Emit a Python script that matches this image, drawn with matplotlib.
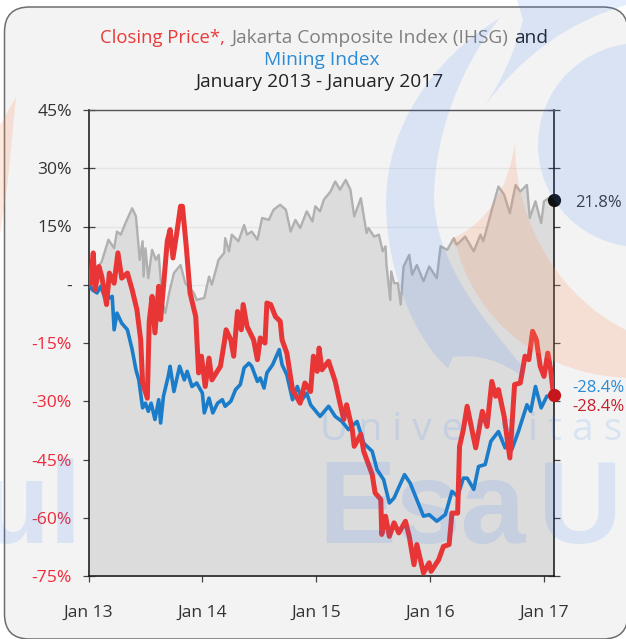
import matplotlib
matplotlib.use("Agg")
import matplotlib.pyplot as plt
from matplotlib.patches import FancyBboxPatch, Circle, PathPatch
from matplotlib.path import Path

plt.rcParams['font.family'] = ['Open Sans', 'DejaVu Sans']

# months since Jan 13 / percent change
ihsg_t = [0, 0.6, 1.4, 2.1, 2.7, 3.0, 3.4, 3.9, 4.6, 5.0, 5.4, 5.7, 5.8, 6.0, 6.3, 6.7, 7.1, 7.4, 7.8, 8.1,
          8.5, 9.0, 9.7, 10.2, 11.1, 11.4, 12.2, 12.7, 13.0, 13.7, 14.3, 14.4, 14.8, 15.1, 15.8, 16.4, 16.7, 17.2, 17.8, 18.3,
          19.0, 19.5, 20.2, 20.8, 21.3, 21.8, 22.3, 23.0, 23.6, 23.9, 24.4, 24.8, 25.5, 26.0, 26.5, 27.1, 27.6, 28.0, 28.7, 29.3,
          29.5, 30.1, 30.6, 31.0, 31.3, 31.4, 31.8, 31.9, 32.2, 32.6, 32.9, 33.2, 33.8, 34.1, 34.6, 35.3, 35.9, 36.7, 37.1, 37.8,
          38.5, 38.8, 39.7, 40.6, 41.3, 41.6, 42.5, 43.2, 43.8, 44.4, 45.0, 45.5, 46.2, 46.5, 47.1, 47.7, 48.0, 48.5, 49.0]
ihsg_v = [1.3, 3.0, 6.0, 11.6, 9.4, 13.7, 12.9, 15.9, 19.7, 17.6, 6.4, 11.2, 2.1, 9.4, 1.7, 9.0, 6.4, 7.7, -4.7, -7.3,
          -2.1, 3.0, 5.1, 0.4, -2.1, -3.9, -3.4, 2.1, 0, 6.4, 8.2, 12.0, 8.6, 12.9, 11.2, 15.4, 12.9, 13.7, 11.6, 17.2,
          16.7, 19.3, 20.6, 19.3, 13.7, 16.7, 14.6, 18.9, 16.3, 20.2, 18.9, 21.9, 24.0, 26.6, 24.5, 27.0, 24.5, 17.6, 22.3, 13.3,
          14.6, 12.4, 12.9, 8.6, 9.9, 5.1, -3.9, 3.4, 0.4, 0.4, -5.1, 4.7, 7.7, 2.6, 5.1, 0.9, 4.7, 1.7, 9.9, 9.0,
          12.0, 10.3, 12.4, 8.6, 12.9, 11.2, 19.3, 25.3, 23.2, 18.4, 25.7, 24.0, 25.7, 17.2, 21.5, 15.9, 21.5, 22.3, 21.8]

mining_t = [0, 0.4, 0.9, 1.3, 1.8, 2.5, 2.7, 3.0, 3.5, 4.1, 4.6, 5.0, 5.3, 5.7, 6.0, 6.3, 6.6, 7.0, 7.4, 7.6,
            7.9, 8.4, 8.6, 9.0, 9.6, 10.1, 10.4, 10.9, 11.4, 12.0, 12.2, 12.7, 13.1, 13.6, 14.1, 14.4, 15.0, 15.5, 16.0, 16.4,
            16.9, 17.2, 17.8, 18.1, 18.5, 18.8, 19.4, 20.1, 20.4, 20.9, 21.5, 22.0, 22.5, 23.0, 23.4, 24.4, 25.3, 26.0, 26.7, 27.4,
            28.3, 29.0, 29.9, 30.4, 31.1, 31.7, 32.2, 33.3, 33.9, 35.3, 35.9, 36.7, 37.6, 38.3, 38.9, 39.5, 39.9, 40.6, 41.1, 41.8,
            42.4, 43.2, 43.9, 44.1, 44.6, 45.3, 46.2, 46.6, 47.1, 47.7, 48.3, 49.0]
mining_v = [0.4, -1.3, -2.1, -0.4, -3.9, -3.0, -11.6, -7.3, -9.9, -11.6, -16.7, -21.9, -24.5, -31.7, -30.5, -32.6, -30.5, -34.7, -29.6, -35.6,
            -28.7, -23.6, -21.0, -27.5, -21.0, -24.5, -22.3, -26.2, -25.3, -27.9, -33.0, -29.2, -33.0, -30.5, -29.6, -31.3, -30.0, -27.0, -25.7, -21.4,
            -20.2, -21.0, -24.9, -24.0, -26.6, -22.7, -20.6, -16.7, -20.6, -23.2, -29.6, -26.2, -29.6, -27.9, -30.9, -33.9, -31.3, -33.9, -35.2, -37.3,
            -35.2, -40.8, -42.9, -47.6, -50.2, -56.2, -54.9, -48.9, -51.1, -59.6, -59.2, -60.9, -59.2, -53.2, -54.5, -49.8, -49.8, -52.7, -46.8, -46.3,
            -40.3, -37.8, -42.0, -40.8, -42.5, -37.8, -30.9, -32.6, -26.2, -31.7, -28.7, -28.4]

price_t = [0, 0.2, 0.5, 0.7, 1.1, 1.4, 1.9, 2.2, 2.7, 3.1, 3.5, 4.1, 4.6, 5.1, 5.5, 5.7, 6.2, 6.4, 6.7, 7.0,
           7.4, 7.6, 7.9, 8.3, 8.6, 8.9, 9.3, 9.7, 9.9, 10.3, 10.7, 11.3, 11.6, 11.9, 12.3, 12.7, 13.0, 13.9, 14.3, 14.5,
           15.0, 15.3, 15.7, 16.1, 16.3, 16.7, 17.4, 17.8, 18.1, 18.6, 18.8, 19.2, 19.7, 20.2, 20.4, 20.9, 21.5, 22.3, 22.8, 23.4,
           23.7, 24.1, 24.3, 24.6, 25.3, 26.0, 26.5, 26.9, 27.2, 27.8, 28.0, 28.7, 29.0, 29.9, 30.2, 30.8, 30.9, 31.3, 31.7, 32.2,
           32.7, 33.4, 33.8, 34.3, 34.6, 35.3, 35.9, 36.1, 36.9, 37.4, 38.0, 38.3, 38.9, 39.1, 39.5, 39.9, 40.8, 41.5, 42.0, 42.5,
           42.9, 43.2, 43.8, 44.4, 44.9, 45.5, 46.0, 46.4, 46.8, 47.2, 47.6, 48.0, 48.4, 48.7, 49.0]
price_v = [2.1, 0.4, 8.2, -1.3, 4.7, 2.1, -5.1, 3.0, 0.4, 8.2, 1.7, 3.0, -1.3, -6.4, -14.2, -25.3, -29.2, -9.4, -3.0, -12.4,
           -0.4, -9.0, -0.4, 11.2, 14.2, 6.9, 13.3, 20.2, 20.2, 9.9, -2.1, -8.2, -22.7, -18.4, -26.2, -18.9, -24.5, -21.0, -15.0, -11.6,
           -14.2, -18.4, -6.9, -11.6, -5.1, -10.7, -14.2, -19.3, -13.7, -15.0, -4.7, -5.1, -8.2, -9.4, -14.2, -17.6, -27.0, -30.5, -25.3, -27.5,
           -18.4, -22.3, -16.3, -21.9, -19.7, -24.9, -30.5, -34.7, -30.9, -37.3, -41.6, -38.5, -42.9, -48.9, -53.6, -55.3, -64.3, -59.6, -64.8, -61.3,
           -63.9, -60.9, -64.8, -72.1, -66.9, -74.2, -71.6, -73.8, -70.8, -67.4, -66.9, -58.8, -58.8, -41.6, -37.3, -31.3, -42.0, -32.6, -36.5, -24.9,
           -28.7, -27.0, -33.9, -44.6, -25.7, -25.3, -18.4, -19.3, -12.0, -14.2, -21.0, -23.6, -17.6, -21.9, -28.4]

y_ticks = [45, 30, 15, 0, -15, -30, -45, -60, -75]
y_labels = ['45%', '30%', '15%', '-', '-15%', '-30%', '-45%', '-60%', '-75%']
x_ticks = [0, 12, 24, 36, 48]
x_labels = ['Jan 13', 'Jan 14', 'Jan 15', 'Jan 16', 'Jan 17']

W, H = 626, 639
fig = plt.figure(figsize=(W / 100, H / 100), dpi=100, facecolor='white')

# panel and title live in a pixel axes behind the chart
bg = fig.add_axes([0, 0, 1, 1], zorder=0)
bg.set_xlim(0, W)
bg.set_ylim(H, 0)
bg.axis('off')
bg.add_patch(FancyBboxPatch((29.5, 32), 573.5, 582, boxstyle='round,pad=25,rounding_size=25',
                            fc='#f3f3f3', ec='#6e6e6e', lw=1.1, clip_on=False))

# chart
ax = fig.add_axes([88.5 / W, 1 - 576 / H, 465 / W, 466 / H], zorder=1)
ax.patch.set_alpha(0)
ax.set_xlim(0, 49)
ax.set_ylim(-75, 45)
ax.grid(axis='y', color='#e4e4e4', lw=1)
ax.set_axisbelow(True)
ax.fill_between(ihsg_t, ihsg_v, -75, color='#dcdcdc', lw=0, zorder=1.5)
ax.plot(ihsg_t, ihsg_v, color='#b0b0b0', lw=1.7, zorder=2)
ax.plot(mining_t, mining_v, color='#1b7dc9', lw=2.6, zorder=3)
ax.plot(price_t, price_v, color='#e83535', lw=3.6, zorder=4)
ax.plot([49], [ihsg_v[-1]], 'o', color='#111111', ms=8.5, clip_on=False, zorder=6)
ax.plot([49], [price_v[-1]], 'o', color='#c4161c', ms=8.5, clip_on=False, zorder=6)

ax.set_yticks(y_ticks)
ax.set_yticklabels(y_labels, fontsize=12.6)
ax.set_xticks(x_ticks)
ax.set_xticklabels(x_labels, fontsize=12.6, color='#333333')
ax.tick_params(axis='y', left=True, right=True, direction='inout', length=8, width=0.9, color='#444444', pad=8)
ax.tick_params(axis='x', direction='inout', length=9, width=0.9, color='#444444', pad=16)
for lab, v in zip(ax.get_yticklabels(), y_ticks):
    lab.set_color('#f02a3a' if v < 0 else '#333333')
ax.spines['top'].set_color('#555555')
ax.spines['top'].set_linewidth(1)
for s in ['left', 'right', 'bottom']:
    ax.spines[s].set_color('#111111')
    ax.spines[s].set_linewidth(1.1)

# title, one colour per part
bg.text(100, 38, 'Closing Price*,', color='#e83a3a', fontsize=13.3, ha='left', va='center')
bg.text(232, 38, 'Jakarta Composite Index (IHSG)', color='#808080', fontsize=13.8, ha='left', va='center')
bg.text(514, 38, 'and', color='#222222', fontsize=13.8, ha='left', va='center')
bg.text(322, 60, 'Mining Index', color='#2a8bd6', fontsize=13.8, ha='center', va='center')
bg.text(320, 82, 'January 2013 - January 2017', color='#222222', fontsize=13.8, ha='center', va='center')

# watermark over everything
wm = fig.add_axes([0, 0, 1, 1], zorder=5)
wm.set_xlim(0, W)
wm.set_ylim(H, 0)
wm.axis('off')
blue = '#2275fa'
orange = '#ff915a'
M, L, C3, C4, Z = Path.MOVETO, Path.LINETO, Path.CURVE3, Path.CURVE4, Path.CLOSEPOLY


def shape(pts, codes, fc, a):
    wm.add_patch(PathPatch(Path(pts, codes), fc=fc, alpha=a, lw=0))


shape([(0, 125), (16, 97), (8, 180), (0, 235), (0, 125)], [M, L, L, L, Z], orange, 0.2)
shape([(515, 142), (505, 215), (450, 240), (457, 248), (470, 300), (520, 372), (626, 378), (626, 330),
       (565, 300), (515, 230), (515, 142), (515, 142)],
      [M, C3, C3, L, C4, C4, C4, L, C4, C4, C4, Z], orange, 0.2)
shape([(500, 18), (430, 60), (386, 130), (386, 203), (386, 270), (415, 340), (448, 368), (453, 357),
       (490, 352), (523, 377), (523, 367), (475, 310), (437, 260), (434, 200), (434, 130), (465, 60), (500, 18), (500, 18)],
      [M, C4, C4, C4, C4, C4, C4, L, C3, C3, L, C4, C4, C4, C4, C4, C4, Z], blue, 0.12)
shape([(483, 108), (510, 70), (523, 20), (517, 0), (626, 0), (626, 5), (540, 30), (483, 108), (483, 108)],
      [M, C3, C3, L, L, L, C3, C3, Z], blue, 0.12)
wm.add_patch(Circle((640, 145), 102, fc=blue, alpha=0.12, lw=0))
wm.text(320, 430, 'U n i v e r s i t a s', color=blue, alpha=0.12, fontsize=28, va='center', ha='left')
wm.text(318, 543, 'Esa', color=blue, alpha=0.12, fontsize=84, fontweight='bold', family='Liberation Sans', va='baseline')
wm.text(538, 543, 'U', color=blue, alpha=0.12, fontsize=84, fontweight='bold', family='Liberation Sans', va='baseline')
wm.text(82, 543, 'ul', color=blue, alpha=0.12, fontsize=84, fontweight='bold', family='Liberation Sans', va='baseline', ha='right')

# end labels sit on top of the watermark
wm.text(575, 203, '21.8%', color='#3a4050', fontsize=12, va='center')
wm.text(572, 388, '-28.4%', color='#2a8bd6', fontsize=12, va='center')
wm.text(572, 407, '-28.4%', color='#c4222a', fontsize=12, va='center')

fig.savefig('out.png', dpi=100)
